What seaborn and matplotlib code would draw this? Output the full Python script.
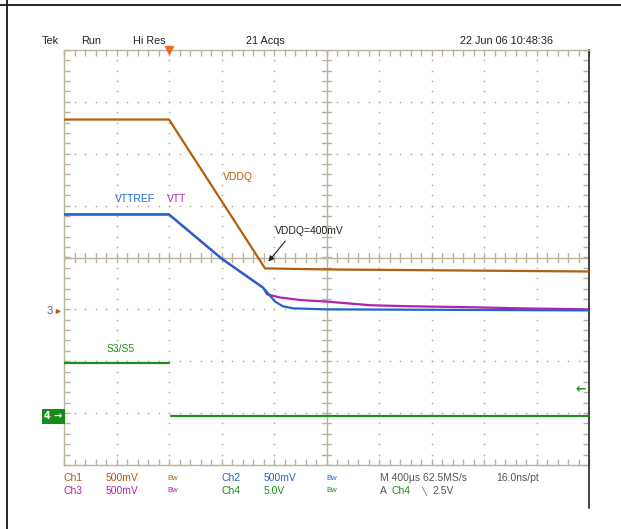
import numpy as np
import pandas as pd
import matplotlib
matplotlib.use('Agg')
import matplotlib.pyplot as plt
from matplotlib.lines import Line2D
import seaborn as sns

sns.set_theme(style='white')
plt.rcParams['font.family'] = ['Liberation Sans Narrow', 'Liberation Sans', 'DejaVu Sans']

# time in divisions (400us/div), amplitude in divisions (centre = 0)
t_vddq = [0.0, 2.0, 3.83, 5.0, 7.5, 10.0]
v_vddq = [2.66, 2.66, -0.21, -0.23, -0.25, -0.27]

t_vttref = [0.0, 2.0, 3.0, 3.79, 3.87, 4.02, 4.17, 4.36, 5.0, 10.0]
v_vttref = [0.83, 0.83, -0.02, -0.58, -0.67, -0.85, -0.94, -0.98, -1.0, -1.02]

t_vtt = [0.0, 2.0, 3.0, 3.79, 3.87, 4.11, 4.50, 5.01, 5.83, 6.59, 7.79, 8.69, 10.0]
v_vtt = [0.83, 0.83, -0.02, -0.58, -0.71, -0.77, -0.82, -0.85, -0.92, -0.94, -0.96, -0.98, -1.0]

t_s3s5 = [0.0, 2.0, 2.03, 10.0]
v_s3s5 = [-2.04, -2.04, -3.06, -3.06]
seg_s3s5 = ['high', 'high', 'low', 'low']

gnd_ch13 = -1.04
gnd_ch4 = -3.06
trig_level = -2.54
trig_time = 2.0

header = ['Tek', 'Run', 'Hi Res', '21 Acqs', '22 Jun 06 10:48:36']
header_x = [42, 81, 133, 246, 460]

c1 = '#b35f0c'
c2 = '#1f66cc'
c3 = '#b321b3'
c4 = '#1e8f1e'
grid_c = '#b9b29c'
txt_c = '#555555'

fig = plt.figure(figsize=(6.21, 5.29), dpi=100)
W, H = 621, 529
ax = fig.add_axes([64 / W, 1 - 465 / H, 525 / W, 415 / H])

# traces
sns.lineplot(x=t_vtt, y=v_vtt, color=c3, lw=1.6, sort=False, estimator=None, ax=ax, zorder=3)
sns.lineplot(x=t_vttref, y=v_vttref, color=c2, lw=1.6, sort=False, estimator=None, ax=ax, zorder=4)
sns.lineplot(x=t_vddq, y=v_vddq, color=c1, lw=1.6, sort=False, estimator=None, ax=ax, zorder=4)
df4 = pd.DataFrame({'t': t_s3s5, 'v': v_s3s5, 'seg': seg_s3s5})
sns.lineplot(data=df4, x='t', y='v', units='seg', estimator=None, color=c4, lw=1.6,
             sort=False, ax=ax, zorder=4)

ax.set_xlim(0, 10)
ax.set_ylim(-4, 4)
ax.set_xlabel('')
ax.set_ylabel('')

# graticule dots
gx, gy = [], []
for xv in range(1, 10):
    if xv == 5:
        continue
    for yv in np.arange(-4, 4.01, 0.2):
        gx.append(xv); gy.append(yv)
for yv in range(-3, 4):
    if yv == 0:
        continue
    for xv in np.arange(0, 10.01, 0.2):
        gx.append(xv); gy.append(yv)
ax.scatter(gx, gy, s=1.6, color=grid_c, linewidths=0, zorder=1)

# centre cross with ticks
ax.axhline(0, color=grid_c, lw=1, zorder=1)
ax.axvline(5, color=grid_c, lw=1, zorder=1)
for xv in np.arange(0, 10.01, 0.2):
    ax.plot([xv, xv], [-0.09, 0.09], color=grid_c, lw=1, zorder=1)
for yv in np.arange(-4, 4.01, 0.2):
    ax.plot([4.92, 5.08], [yv, yv], color=grid_c, lw=1, zorder=1)

ax.set_xticks(np.arange(0, 10.01, 0.2))
ax.set_yticks(np.arange(-4, 4.01, 0.2))
ax.set_xticklabels([])
ax.set_yticklabels([])
ax.tick_params(direction='in', length=4, width=1, color=grid_c,
               top=True, right=True, bottom=True, left=True)
for s in ['left', 'top', 'bottom']:
    ax.spines[s].set_color(grid_c)
    ax.spines[s].set_linewidth(1)
ax.spines['right'].set_color('#222222')
ax.spines['right'].set_linewidth(1.2)

# labels on the traces
ax.text(3.31, 1.56, 'VDDQ', color=c1, fontsize=7.5, ha='center', va='center')
ax.text(0.97, 1.12, 'VTTREF', color=c2, fontsize=7.5, ha='left', va='center')
ax.text(1.96, 1.12, 'VTT', color=c3, fontsize=7.5, ha='left', va='center')
ax.text(0.82, -1.77, 'S3/S5', color=c4, fontsize=7.5, ha='left', va='center')
ax.text(4.02, 0.52, 'VDDQ=400mV', color='#222222', fontsize=7.5, ha='left', va='center')
ax.annotate('', xy=(3.86, -0.12), xytext=(4.25, 0.36),
            arrowprops=dict(arrowstyle='-|>', color='#222222', lw=0.8, mutation_scale=8))

# trigger position marker
ax.plot([trig_time], [4.0], marker='v', color='#f06a28', markersize=6, clip_on=False, zorder=6)

# channel ground markers
ax.annotate('', xy=(0, gnd_ch13), xytext=(-0.17, gnd_ch13), annotation_clip=False,
            arrowprops=dict(arrowstyle='-|>', color=c1, lw=1, mutation_scale=6))
ax.text(-0.22, gnd_ch13, '3', color='#6a4aa0', fontsize=8, ha='right', va='center')
ax.text(-0.2, gnd_ch4, '4 \u2192', color='white', fontsize=7, ha='center', va='center',
        fontweight='bold', family=['DejaVu Sans'],
        bbox=dict(boxstyle='square,pad=0.25', fc='#1a8a1a', ec='none'))
ax.text(9.95, trig_level, '\u2190', color=c4, fontsize=9, ha='right', va='center',
        family=['DejaVu Sans'], fontweight='bold')

# header line
for label, xp in zip(header, header_x):
    fig.text(xp / W, 1 - 41 / H, label, fontsize=7.8, color='#222222', ha='left', va='center')

# bottom readout
r1 = 1 - 478 / H
r2 = 1 - 491 / H
def rt(xp, y, s, c, fs=7.5):
    fig.text(xp / W, y, s, color=c, fontsize=fs, ha='left', va='center')

rt(64, r1, 'Ch1', c1); rt(106, r1, '500mV', c1); rt(167, r1, 'Bw', c1, 5.5)
rt(222, r1, 'Ch2', c2); rt(264, r1, '500mV', c2); rt(326, r1, 'Bw', c2, 5.5)
rt(380, r1, 'M 400\u00b5s 62.5MS/s', txt_c); rt(496, r1, '16.0ns/pt', txt_c)
rt(64, r2, 'Ch3', c3); rt(106, r2, '500mV', c3); rt(167, r2, 'Bw', c3, 5.5)
rt(222, r2, 'Ch4', c4); rt(264, r2, '5.0V', c4); rt(326, r2, 'Bw', c4, 5.5)
rt(380, r2, 'A', txt_c); rt(392, r2, 'Ch4', c4); rt(421, r2, '\u2572', txt_c, 6); rt(432, r2, '2.5V', txt_c)

# page frame
fig.add_artist(Line2D([7 / W, 7 / W], [0, 1], color='black', lw=1.2))
fig.add_artist(Line2D([0, 1], [1 - 5 / H, 1 - 5 / H], color='black', lw=1.2))
fig.add_artist(Line2D([589 / W, 589 / W], [1 - 465 / H, 1 - 508 / H], color='#222222', lw=1.2))

fig.savefig('out.png', dpi=100)
